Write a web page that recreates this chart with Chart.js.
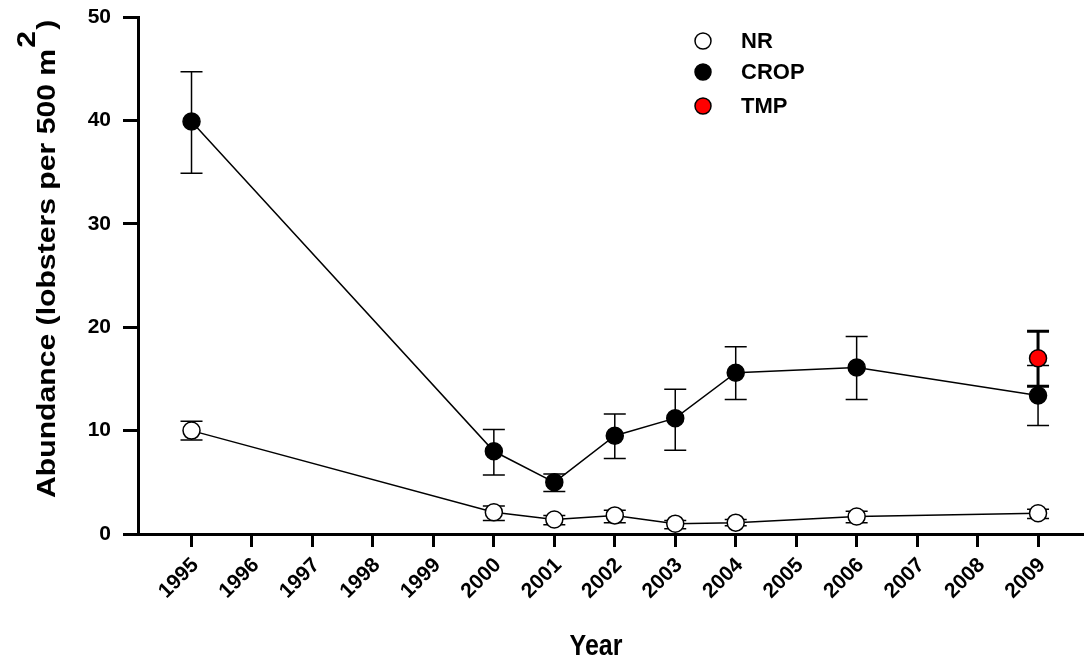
<!DOCTYPE html>
<html>
<head>
<meta charset="utf-8">
<script src="https://cdn.jsdelivr.net/npm/chart.js@4.4.1/dist/chart.umd.min.js"></script>
<style>
  html, body { margin: 0; padding: 0; background: #fff; }
  #wrap { width: 1084px; height: 663px; }
</style>
</head>
<body>
<div id="wrap"><canvas id="c" width="1084" height="663"></canvas></div>
<script>
// Survey years and mean abundance (lobsters per 500 m2) with error bar limits
const years    = [1995, 2000, 2001, 2002, 2003, 2004, 2006, 2009];
const nrMean   = [10.0, 2.1, 1.4, 1.8, 1.0, 1.1, 1.7, 2.0];
const nrLow    = [9.1, 1.3, 0.9, 1.1, 0.5, 0.8, 1.1, 1.5];
const nrHigh   = [10.9, 2.7, 1.8, 2.3, 1.3, 1.4, 2.2, 2.4];
const cropMean = [39.9, 8.0, 5.0, 9.5, 11.2, 15.6, 16.1, 13.4];
const cropLow  = [34.9, 5.7, 4.1, 7.3, 8.1, 13.0, 13.0, 10.5];
const cropHigh = [44.7, 10.1, 5.8, 11.6, 14.0, 18.1, 19.1, 16.3];
const tmpYears = [2009];
const tmpMean  = [17.0];
const tmpLow   = [14.3];
const tmpHigh  = [19.6];
const yearTicks  = [1995, 1996, 1997, 1998, 1999, 2000, 2001, 2002, 2003, 2004, 2005, 2006, 2007, 2008, 2009];
const valueTicks = [0, 10, 20, 30, 40, 50];
const seriesNames = ['NR', 'CROP', 'TMP'];

const FONT = "'Liberation Sans', Arial, Helvetica, sans-serif";

const toPoints = (xs, ys) => xs.map((x, i) => ({ x: x, y: ys[i] }));

// Vertical error bars with caps, drawn just before each dataset's line and markers
const errorBars = {
  id: 'errorBars',
  beforeDatasetDraw(chart, args) {
    const ds = chart.data.datasets[args.index];
    if (!ds.errLow) return;
    const xs = chart.scales.x, ys = chart.scales.y, ctx = chart.ctx;
    ctx.save();
    ctx.strokeStyle = '#000';
    ctx.lineWidth = ds.errWidth;
    ctx.lineCap = 'butt';
    ds.data.forEach((p, i) => {
      const px = xs.getPixelForValue(p.x);
      const top = ys.getPixelForValue(ds.errHigh[i]);
      const bot = ys.getPixelForValue(ds.errLow[i]);
      const w = 11;
      ctx.beginPath();
      ctx.moveTo(px, top); ctx.lineTo(px, bot);
      ctx.moveTo(px - w, top); ctx.lineTo(px + w, top);
      ctx.moveTo(px - w, bot); ctx.lineTo(px + w, bot);
      ctx.stroke();
    });
    ctx.restore();
  }
};

// Legend in the upper middle of the plot, plus axis titles
const annotations = {
  id: 'annotations',
  afterDraw(chart) {
    const ctx = chart.ctx;
    ctx.save();
    // legend
    const rows = [41, 72, 106];
    chart.data.datasets.forEach((ds, i) => {
      const cy = rows[i];
      ctx.beginPath();
      ctx.arc(703, cy, 8, 0, Math.PI * 2);
      ctx.fillStyle = ds.pointBackgroundColor;
      ctx.fill();
      ctx.lineWidth = 1.5;
      ctx.strokeStyle = '#000';
      ctx.stroke();
      ctx.fillStyle = '#000';
      ctx.font = 'bold 22px ' + FONT;
      ctx.textAlign = 'left';
      ctx.textBaseline = 'middle';
      ctx.fillText(ds.label, 741, cy + 1);
    });
    ctx.restore();

    // x title
    ctx.save();
    ctx.fillStyle = '#000';
    ctx.font = 'bold 25px ' + FONT;
    ctx.textAlign = 'center';
    ctx.textBaseline = 'alphabetic';
    ctx.translate(596, 655);
    ctx.scale(1, 1.18);
    ctx.fillText('Year', 0, 0);
    ctx.restore();

    // y title, rotated, with raised exponent
    ctx.save();
    ctx.fillStyle = '#000';
    ctx.translate(55, 498);
    ctx.rotate(-Math.PI / 2);
    ctx.scale(1.16, 1);
    ctx.textAlign = 'left';
    ctx.textBaseline = 'alphabetic';
    ctx.font = 'bold 26px ' + FONT;
    const main = 'Abundance (lobsters per 500 m';
    ctx.fillText(main, 0, 0);
    let w = ctx.measureText(main).width;
    ctx.fillText('2', w + 1, -20);
    w += ctx.measureText('2').width + 2;
    ctx.fillText(')', w, 0);
    ctx.restore();
  }
};

const chart = new Chart(document.getElementById('c'), {
  type: 'line',
  data: {
    datasets: [
      {
        label: seriesNames[0],
        data: toPoints(years, nrMean),
        errLow: nrLow, errHigh: nrHigh, errWidth: 1.5,
        borderColor: '#000', borderWidth: 1.5,
        pointRadius: 8.5, pointBackgroundColor: '#ffffff',
        pointBorderColor: '#000', pointBorderWidth: 1.5,
        order: 2
      },
      {
        label: seriesNames[1],
        data: toPoints(years, cropMean),
        errLow: cropLow, errHigh: cropHigh, errWidth: 1.5,
        borderColor: '#000', borderWidth: 1.5,
        pointRadius: 8.5, pointBackgroundColor: '#000000',
        pointBorderColor: '#000', pointBorderWidth: 1.5,
        order: 1
      },
      {
        label: seriesNames[2],
        data: toPoints(tmpYears, tmpMean),
        errLow: tmpLow, errHigh: tmpHigh, errWidth: 3,
        showLine: false,
        borderColor: '#000', borderWidth: 1.5,
        pointRadius: 8.5, pointBackgroundColor: '#ff0000',
        pointBorderColor: '#000', pointBorderWidth: 1.5,
        order: 0
      }
    ]
  },
  options: {
    responsive: false,
    animation: false,
    events: [],
    layout: { autoPadding: false, padding: { top: 17, left: 0, right: 0, bottom: 0 } },
    plugins: { legend: { display: false }, tooltip: { enabled: false } },
    scales: {
      x: {
        type: 'linear',
        min: 1994.115,
        max: 2009.76,
        afterBuildTicks: s => { s.ticks = yearTicks.map(v => ({ value: v })); },
        afterFit: s => { s.height = 129; s.paddingRight = 0; s.paddingLeft = 0; },
        ticks: {
          autoSkip: false, minRotation: 45, maxRotation: 45, padding: 6, labelOffset: 4,
          color: '#000', font: { family: FONT, size: 21, weight: 'bold' },
          callback: v => String(v)
        },
        grid: { drawOnChartArea: false, drawTicks: true, tickLength: 13, tickWidth: 3, tickColor: '#000' },
        border: { display: true, color: '#000', width: 3 }
      },
      y: {
        min: 0,
        max: 50,
        afterBuildTicks: s => { s.ticks = valueTicks.map(v => ({ value: v })); },
        afterFit: s => { s.width = 138; s.paddingTop = 0; s.paddingBottom = 0; },
        ticks: {
          padding: 12, color: '#000', font: { family: FONT, size: 21, weight: 'bold' },
          callback: v => String(v)
        },
        grid: { drawOnChartArea: false, drawTicks: true, tickLength: 15, tickWidth: 3, tickColor: '#000' },
        border: { display: true, color: '#000', width: 3 }
      }
    }
  },
  plugins: [errorBars, annotations]
});
</script>
</body>
</html>
